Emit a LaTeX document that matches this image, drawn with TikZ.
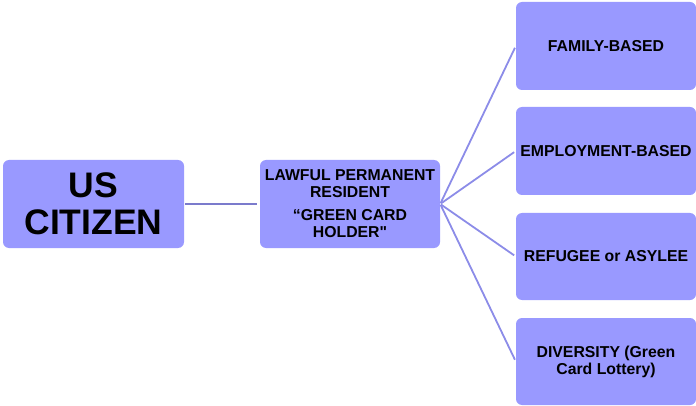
\documentclass[tikz,border=0pt]{standalone}
\usepackage{fontspec}
\setmainfont{Liberation Sans}[Ligatures=ResetAll]
\begin{document}
\begin{tikzpicture}[x=1pt,y=-1pt,
  box/.style={draw=none,fill=boxfill,rounded corners=6pt,inner sep=0pt,
    align=center,font=\bfseries\fontsize{15.8}{17}\selectfont,text=black},
  link/.style={draw=linkcol,line width=2pt},
  fan/.style={draw=fancol,line width=1.8pt,shorten >=2pt,shorten <=1pt}]
\definecolor{boxfill}{HTML}{9999FF}
\definecolor{linkcol}{HTML}{7B7BCC}
\definecolor{fancol}{HTML}{8C8CE8}
\useasboundingbox (0,0) rectangle (696,406);

\node[box,minimum width=181pt,minimum height=88pt,
  font=\bfseries\fontsize{35.5}{37}\selectfont] (cit) at (93.5,204) {US\\CITIZEN};
\node[box,minimum width=180pt,minimum height=88pt] (lpr) at (350,204)
  {LAWFUL PERMANENT\\RESIDENT\\[6pt]“GREEN CARD\\HOLDER\textquotedbl};

\node[box,minimum width=180pt,minimum height=88pt] (fam) at (606,46) {FAMILY-BASED};
\node[box,minimum width=180pt,minimum height=88pt] (emp) at (606,151) {EMPLOYMENT-BASED};
\node[box,minimum width=180pt,minimum height=87pt] (ref) at (606,256.5) {REFUGEE or ASYLEE};
\node[box,minimum width=180pt,minimum height=87pt] (div) at (606,361.5) {DIVERSITY (Green\\Card Lottery)};

\draw[link,shorten >=3pt,shorten <=1pt] (cit.east) -- (lpr.west);
\foreach \t in {fam,emp,ref,div}
  \draw[fan] (lpr.east) -- (\t.west);
\end{tikzpicture}
\end{document}
